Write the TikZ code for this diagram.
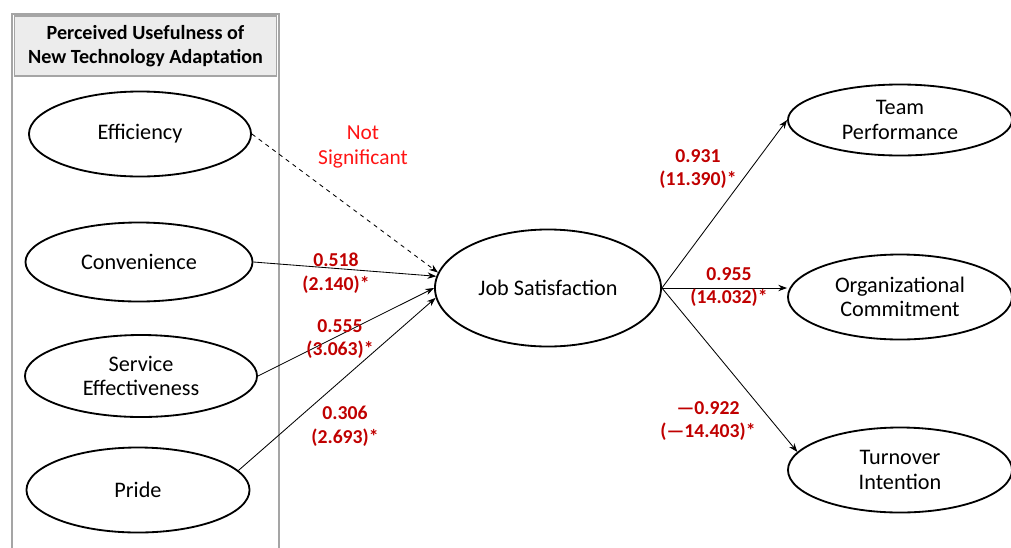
\documentclass[tikz,border=0pt]{standalone}
\usepackage{fontspec}
\setmainfont{Carlito}
\usetikzlibrary{shapes,arrows.meta}
\definecolor{coefred}{RGB}{192,0,0}
\definecolor{nsred}{RGB}{255,20,20}
\definecolor{boxgray}{RGB}{165,165,165}

\begin{document}
\begin{tikzpicture}[x=0.025cm,y=-0.025cm,
  latent/.style={draw,ellipse,line width=1.3pt,inner sep=0pt,align=center,font=\fontsize{15.8}{17.5}\selectfont},
  coef/.style={text=coefred,align=center,font=\bfseries\fontsize{14}{17}\selectfont},
  link/.style={-{Stealth[length=2.2mm,width=1.6mm]},line width=0.6pt}]
\useasboundingbox (0,0) rectangle (1011,547);
% left panel
\draw[boxgray,line width=1pt] (12,560) -- (12,14) -- (279,14) -- (279,560);
\node[draw=boxgray,fill=gray!15,line width=0.8pt,minimum width=6.55cm,minimum height=1.5cm,align=center,font=\bfseries\fontsize{14.3}{17.5}\selectfont] (PU) at (145.5,46) {Perceived Usefulness of\\New Technology Adaptation};
\node[latent,minimum width=5.55cm,minimum height=2.125cm] (EFF) at (140,134) {Efficiency};
\node[latent,minimum width=5.675cm,minimum height=1.975cm] (CON) at (139,262) {Convenience};
\node[latent,minimum width=5.8cm,minimum height=2.05cm] (SER) at (141,376) {Service\\Effectiveness};
\node[latent,minimum width=5.575cm,minimum height=2.125cm] (PRI) at (138,490) {Pride};
% mediator and outcomes
\node[latent,minimum width=5.65cm,minimum height=2.925cm] (JS) at (548,288) {Job Satisfaction};
\node[latent,minimum width=5.6cm,minimum height=1.775cm] (TP) at (900,120) {Team\\Performance};
\node[latent,minimum width=5.6cm,minimum height=2.125cm] (OC) at (900,297) {Organizational\\Commitment};
\node[latent,minimum width=5.6cm,minimum height=2.125cm] (TI) at (900,470) {Turnover\\Intention};
% paths
\draw[link,dashed] (EFF.east) -- (JS.172);
\draw[link] (CON.east) -- (JS.174);
\draw[link] (SER.east) -- (JS.180);
\draw[link] (PRI.11) -- (JS.185);
\draw[link] (JS.east) -- (TP.west);
\draw[link] (JS.east) -- (JS.east -| OC.west);
\draw[link] (JS.east) -- (TI.170);
% coefficients
\node[align=center,text=nsred,font=\fontsize{15.2}{18}\selectfont] (NS) at (363,147) {Not\\Significant};
\node[coef] (C1) at (336,273) {0.518\\(2.140)*};
\node[coef] (C2) at (340,339) {0.555\\(3.063)*};
\node[coef] (C3) at (345,426) {0.306\\(2.693)*};
\node[coef] (C4) at (698,169) {0.931\\(11.390)*};
\node[coef] (C5) at (729,287) {0.955\\(14.032)*};
\node[coef] (C6) at (708,421) {—0.922\\(—14.403)*};
\end{tikzpicture}
\end{document}
